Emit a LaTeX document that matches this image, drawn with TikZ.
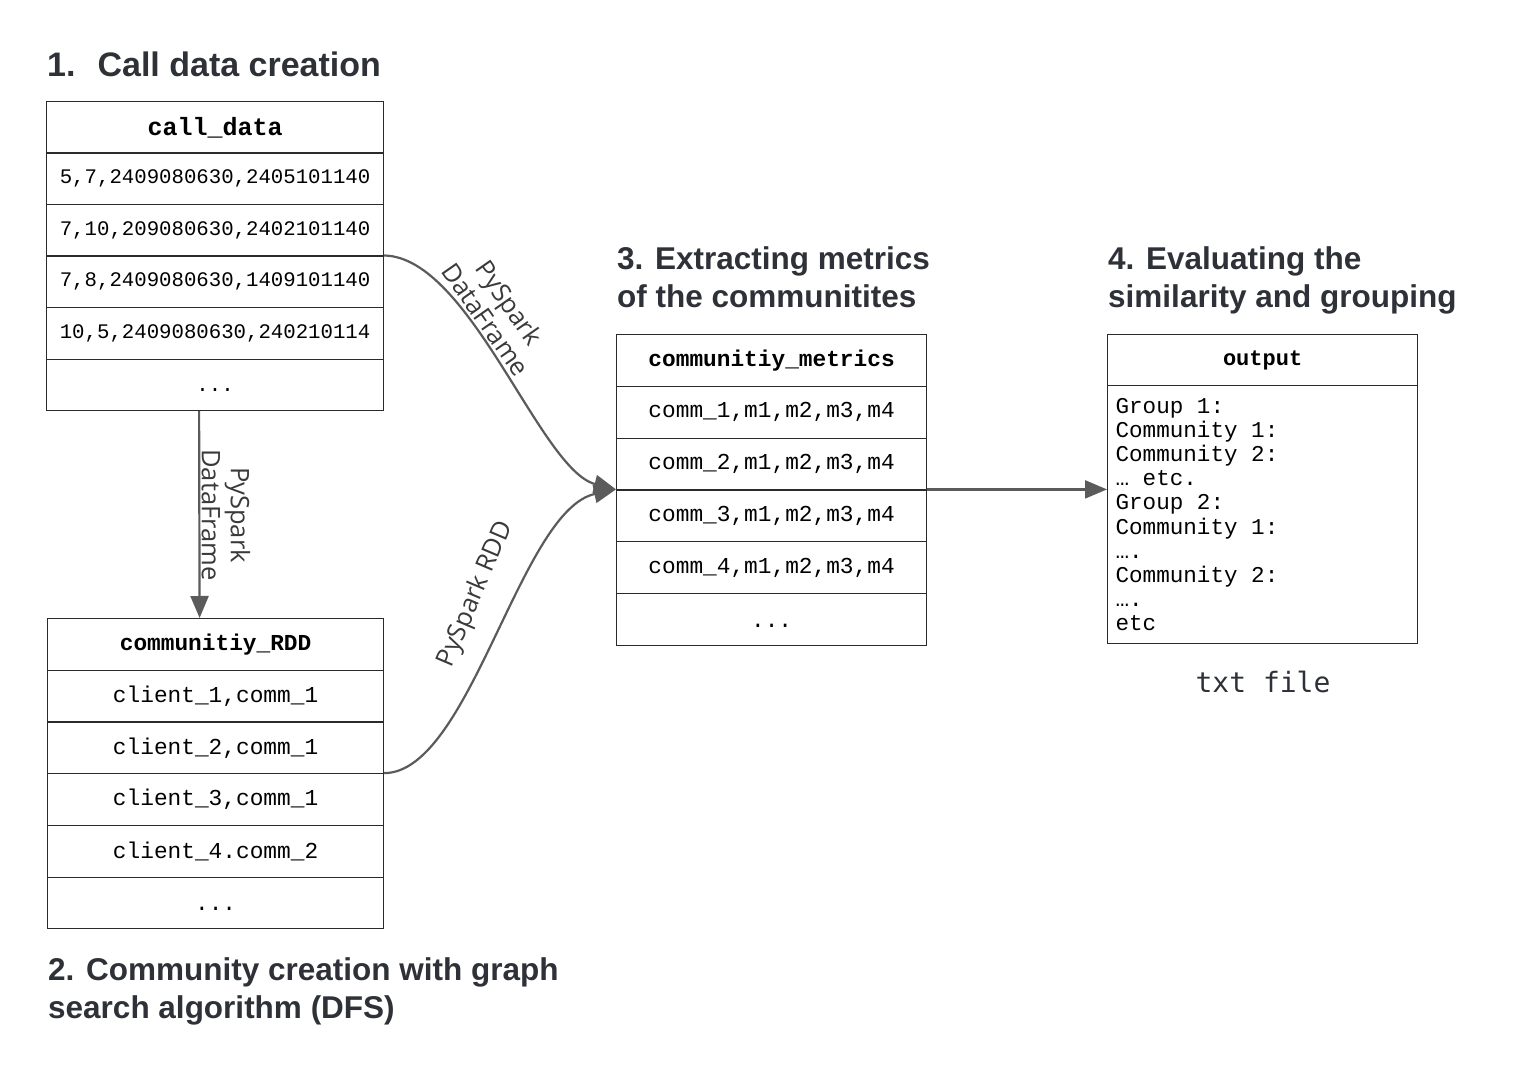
\documentclass[tikz,border=0pt]{standalone}
\usepackage{fontspec}
\setmainfont{Liberation Sans}
\newfontfamily\monofont{Liberation Mono}
\newfontfamily\lblfont{Open Sans}
\newfontfamily\txtfont{DejaVu Sans Mono}
\usetikzlibrary{arrows.meta}

\definecolor{titlec}{HTML}{2E3238}
\definecolor{linec}{HTML}{2B2B2B}
\definecolor{arrc}{HTML}{5B5B5B}
\definecolor{lblc}{HTML}{3A3A3A}

% monospace text of the output file
\newcommand\outfont{\monofont\fontsize{22.6}{24.2}\selectfont}

\tikzset{
  cell/.style={draw=linec,line width=1.2pt,anchor=north west,inner sep=0pt,minimum height=51.6pt},
  title/.style={anchor=base west,inner sep=0pt,align=left,text=titlec,font=\fontsize{31.5}{37.5}\selectfont\bfseries},
  arr/.style={draw=arrc,line width=2.2pt,-{Triangle[length=22pt,width=18pt]}},
  lbl/.style={inner sep=0pt,align=center,text=lblc,font=\lblfont\fontsize{25.5}{29}\selectfont}
}

\begin{document}
\begin{tikzpicture}[x=1pt,y=-1pt]
    \useasboundingbox (0,0) rectangle (1532,1078);
    % titles
    \node[title,font=\fontsize{34}{38}\selectfont\bfseries] (t1) at (47,77) {1.\hspace{22pt}Call data creation};
    \node[title] (t2) at (48,1018) {2. Community creation with graph\\search algorithm (DFS)};
    \node[title] (t3) at (617,307) {3. Extracting metrics\\of the communitites};
    \node[title] (t4) at (1108,307) {4. Evaluating the\\similarity and grouping};
    % call_data
    \node[cell,minimum width=337pt,minimum height=51.5pt,font=\monofont\bfseries\fontsize{25}{25}\selectfont] (cd0) at (46,101) {call\_data};
    \foreach \t [count=\i] in {{5,7,2409080630,2405101140},{7,10,209080630,2402101140},
        {7,8,2409080630,1409101140},{10,5,2409080630,240210114}}
      \node[cell,minimum width=337pt,minimum height=51.5pt,font=\monofont\fontsize{20.7}{20.7}\selectfont] (cd\i) at (46,101+51.5*\i) {\t};
    \node[cell,minimum width=337pt,minimum height=51.5pt,font=\monofont\fontsize{20.7}{20.7}\selectfont] (cd5) at (46,358.5) {\vphantom{0}.{}.{}.};
    % communitiy_RDD
    \node[cell,minimum width=336pt,minimum height=51.7pt,font=\monofont\bfseries\fontsize{22.8}{22.8}\selectfont] (rd0) at (47,618) {communitiy\_RDD};
    \foreach \t [count=\i] in {{client\_1,comm\_1},{client\_2,comm\_1},{client\_3,comm\_1},{client\_4.comm\_2}}
      \node[cell,minimum width=336pt,minimum height=51.7pt,font=\monofont\fontsize{22.8}{22.8}\selectfont] (rd\i) at (47,618+51.7*\i) {\t};
    \node[cell,minimum width=336pt,minimum height=51.7pt,font=\monofont\fontsize{22.8}{22.8}\selectfont] (rd5) at (47,876.5) {\vphantom{0}.{}.{}.};
    % communitiy_metrics
    \node[cell,minimum width=310pt,minimum height=51.8pt,font=\monofont\bfseries\fontsize{22.8}{22.8}\selectfont] (m0) at (616,334) {communitiy\_metrics};
    \foreach \t [count=\i] in {{comm\_1,m1,m2,m3,m4},{comm\_2,m1,m2,m3,m4},{comm\_3,m1,m2,m3,m4},{comm\_4,m1,m2,m3,m4}}
      \node[cell,minimum width=310pt,minimum height=51.8pt,font=\monofont\fontsize{22.8}{22.8}\selectfont] (m\i) at (616,334+51.8*\i) {\t};
    \node[cell,minimum width=310pt,minimum height=51.8pt,font=\monofont\fontsize{22.8}{22.8}\selectfont] (m5) at (616,593) {\vphantom{0}.{}.{}.};
    % output
    \node[cell,minimum width=310pt,minimum height=51pt,font=\monofont\bfseries\fontsize{22}{22}\selectfont] (out) at (1107,334) {output};
    \node[cell,minimum width=310pt,minimum height=258pt,text width=294pt,inner xsep=8pt,align=left,
      font=\outfont] (outbody) at (1107,385)
      {\spaceskip=0.6em\relax Group 1:\\Community 1:\\Community 2:\\… etc.\\Group 2:\\Community 1:\\….\\Community 2:\\….\\etc};
    \node[text=titlec,font=\txtfont\fontsize{28}{28}\selectfont] (txt) at (1263,682) {txt file};
    % connectors
    \draw[arr] ([xshift=-16pt]cd5.south) -- ([xshift=-16pt]rd0.north);
    \draw[arr] (cd3.north east) .. controls (470,257) and (540,470) .. (m3.north west);
    \draw[arr] (rd3.north east) .. controls (470,773) and (520,510) .. (m3.north west);
    \draw[arr] (m3.north east) -- (m3.north east -| outbody.west);
    \node[lbl,rotate=-90] (l1) at (226,515) {PySpark\\DataFrame};
    \node[lbl,rotate=-55] (l2) at (498,311) {PySpark\\DataFrame};
    \node[lbl,rotate=67] (l3) at (476,594) {PySpark RDD};
\end{tikzpicture}
\end{document}
